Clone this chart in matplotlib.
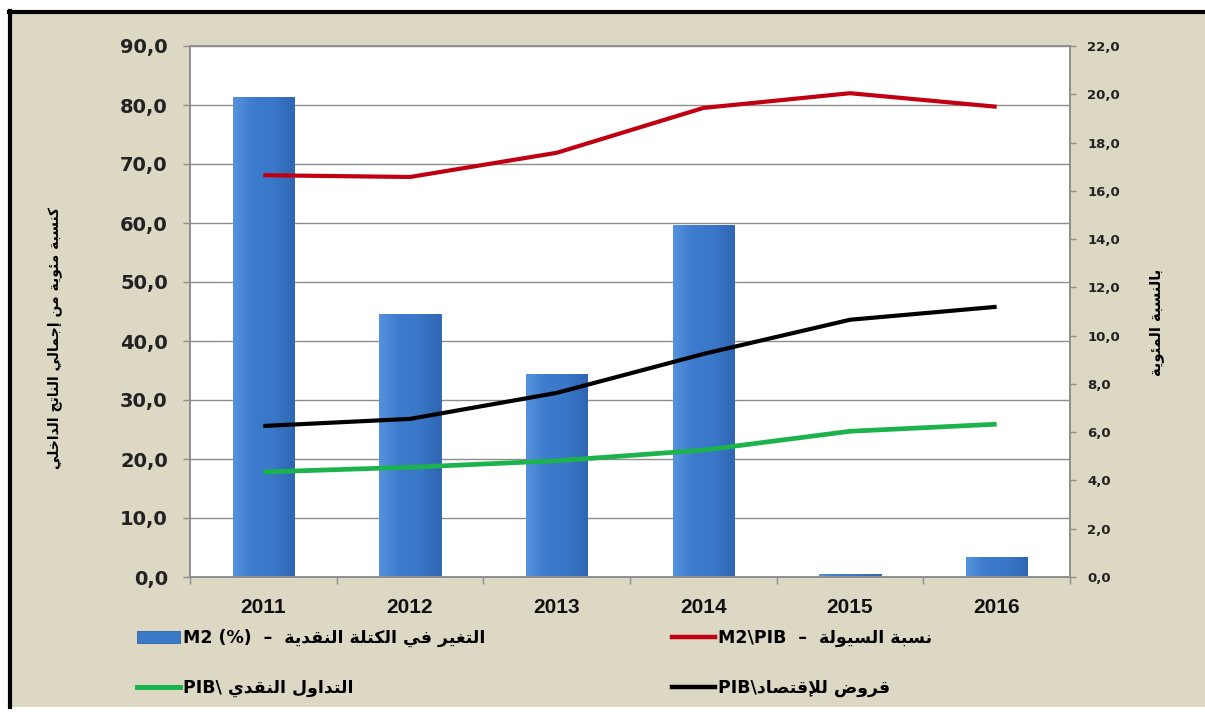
import numpy as np
import matplotlib
matplotlib.use("Agg")
import matplotlib.pyplot as plt
from matplotlib.patches import Rectangle
from matplotlib.lines import Line2D
from matplotlib.colors import LinearSegmentedColormap
from matplotlib.ticker import FuncFormatter, FixedLocator
from matplotlib.transforms import blended_transform_factory
from matplotlib import font_manager

# ---------------- data ----------------
years = ["2011", "2012", "2013", "2014", "2015", "2016"]
m2_growth = [19.9, 10.9, 8.4, 14.6, 0.12, 0.83]          # right axis (%)
m2_pib = [68.1, 67.8, 71.9, 79.5, 82.0, 79.7]            # left axis (% of GDP)
credit_pib = [25.6, 26.8, 31.2, 37.8, 43.6, 45.8]
currency_pib = [17.8, 18.6, 19.7, 21.5, 24.7, 25.9]
left_ticks = [0, 10, 20, 30, 40, 50, 60, 70, 80, 90]
right_ticks = [0, 2, 4, 6, 8, 10, 12, 14, 16, 18, 20, 22]

left_label = "كنسبة مئوية من إجمالي الناتج الداخلي"
right_label = "بالنسبة المئوية"
leg_bar_ar, leg_bar_lat = "التغير في الكتلة النقدية", "M2 (%)  –  "
leg_red_ar, leg_red_lat = "نسبة السيولة", "M2\\PIB  –  "
leg_green_ar, leg_green_lat = "التداول النقدي", "PIB\\ "
leg_black_ar, leg_black_lat = "قروض للإقتصاد", "PIB\\"

# ------------- minimal Arabic shaping (matplotlib has no CTL) -------------
FORMS = {
    '\u0625': ('\uFE87', '\uFE88', None, None),
    '\u0626': ('\uFE89', '\uFE8A', '\uFE8B', '\uFE8C'),
    '\u0627': ('\uFE8D', '\uFE8E', None, None),
    '\u0628': ('\uFE8F', '\uFE90', '\uFE91', '\uFE92'),
    '\u0629': ('\uFE93', '\uFE94', None, None),
    '\u062A': ('\uFE95', '\uFE96', '\uFE97', '\uFE98'),
    '\u062C': ('\uFE9D', '\uFE9E', '\uFE9F', '\uFEA0'),
    '\u062E': ('\uFEA5', '\uFEA6', '\uFEA7', '\uFEA8'),
    '\u062F': ('\uFEA9', '\uFEAA', None, None),
    '\u0631': ('\uFEAD', '\uFEAE', None, None),
    '\u0633': ('\uFEB1', '\uFEB2', '\uFEB3', '\uFEB4'),
    '\u0635': ('\uFEB9', '\uFEBA', '\uFEBB', '\uFEBC'),
    '\u0636': ('\uFEBD', '\uFEBE', '\uFEBF', '\uFEC0'),
    '\u063A': ('\uFECD', '\uFECE', '\uFECF', '\uFED0'),
    '\u0641': ('\uFED1', '\uFED2', '\uFED3', '\uFED4'),
    '\u0642': ('\uFED5', '\uFED6', '\uFED7', '\uFED8'),
    '\u0643': ('\uFED9', '\uFEDA', '\uFEDB', '\uFEDC'),
    '\u0644': ('\uFEDD', '\uFEDE', '\uFEDF', '\uFEE0'),
    '\u0645': ('\uFEE1', '\uFEE2', '\uFEE3', '\uFEE4'),
    '\u0646': ('\uFEE5', '\uFEE6', '\uFEE7', '\uFEE8'),
    '\u0647': ('\uFEE9', '\uFEEA', '\uFEEB', '\uFEEC'),
    '\u0648': ('\uFEED', '\uFEEE', None, None),
    '\u064A': ('\uFEF1', '\uFEF2', '\uFEF3', '\uFEF4'),
}
LAMALEF = {'\u0627': ('\uFEFB', '\uFEFC'), '\u0625': ('\uFEF9', '\uFEFA'),
           '\u0623': ('\uFEF7', '\uFEF8'), '\u0622': ('\uFEF5', '\uFEF6')}


def shape(s):
    toks = []
    i = 0
    while i < len(s):
        c = s[i]
        if c == '\u0644' and i + 1 < len(s) and s[i + 1] in LAMALEF:
            toks.append(('LA', s[i + 1]))
            i += 2
        else:
            toks.append(('C', c))
            i += 1

    def is_ar(t):
        return t[0] == 'LA' or t[1] in FORMS

    def joins_next(t):
        return t[0] == 'C' and t[1] in FORMS and FORMS[t[1]][2] is not None

    out = []
    for k, t in enumerate(toks):
        prev = toks[k - 1] if k > 0 else None
        nxt = toks[k + 1] if k + 1 < len(toks) else None
        p = prev is not None and joins_next(prev)
        if t[0] == 'LA':
            out.append(LAMALEF[t[1]][1 if p else 0])
            continue
        c = t[1]
        if c not in FORMS:
            out.append(c)
            continue
        f = FORMS[c]
        n = f[2] is not None and nxt is not None and is_ar(nxt)
        if p and n:
            out.append(f[3])
        elif p:
            out.append(f[1])
        elif n:
            out.append(f[2])
        else:
            out.append(f[0])
    return ''.join(out)[::-1]


# pick a narrow bold face for the year labels if available
_names = {f.name for f in font_manager.fontManager.ttflist}
year_family = "Liberation Sans Narrow" if "Liberation Sans Narrow" in _names else "Liberation Sans"

# ---------------- figure ----------------
W, H = 1205, 713
fig = plt.figure(figsize=(W / 100, H / 100), dpi=100, facecolor="white")

# beige panel with black left/top border
fig.patches.append(Rectangle((9 / W, 6 / H), 1.0, 1 - 11 / H - 6 / H,
                             transform=fig.transFigure, facecolor="#DDD8C3",
                             edgecolor="none", zorder=-10))
fig.add_artist(Line2D([10 / W, 10 / W], [6 / H, 1 - 11 / H], transform=fig.transFigure,
                      color="black", lw=3, zorder=-5))
fig.add_artist(Line2D([9 / W, 1.0], [1 - 12 / H, 1 - 12 / H], transform=fig.transFigure,
                      color="black", lw=3, zorder=-5))

ax_b = fig.add_axes([190 / W, 136 / H, 880 / W, 531 / H])
ax_b.set_facecolor("white")
ax_l = ax_b.twinx()

x = np.arange(len(years))

# bars on the right-hand axis
bars = ax_b.bar(x, m2_growth, width=0.42, color="#3A78C8", edgecolor="#2E63A8",
                linewidth=0.6, zorder=2)
grad_cmap = LinearSegmentedColormap.from_list("bg", ["#5592DC", "#3C7BCD", "#3A77C8", "#2F66B2"])
grad = np.linspace(0, 1, 64).reshape(1, -1)
for r in bars:
    x0, w, h = r.get_x(), r.get_width(), r.get_height()
    im = ax_b.imshow(grad, extent=[x0, x0 + w, 0, h], aspect="auto", cmap=grad_cmap,
                     zorder=2.1, interpolation="bilinear")
    im.set_clip_path(r)

ax_b.set_xlim(-0.5, len(years) - 0.5)
ax_b.set_ylim(0, 22)
ax_l.set_ylim(0, 90)

# horizontal grid following the left scale, behind bars
ax_b.hlines(left_ticks[1:], 0, 1,
            transform=blended_transform_factory(ax_b.transAxes, ax_l.transData),
            colors="#8E8E8E", lw=1.0, zorder=0.5)

# lines on the left-hand axis
ax_l.plot(x, m2_pib, color="#C00012", lw=3.0, solid_capstyle="butt", zorder=3)
ax_l.plot(x, credit_pib, color="black", lw=3.0, solid_capstyle="butt", zorder=3)
ax_l.plot(x, currency_pib, color="#1DB34C", lw=3.4, solid_capstyle="butt", zorder=3)

# axes / ticks
fmt = FuncFormatter(lambda v, p: f"{v:.1f}".replace(".", ","))
ax_b.yaxis.tick_right()
ax_b.set_yticks(right_ticks)
ax_b.yaxis.set_major_formatter(fmt)
ax_b.tick_params(axis="y", which="major", direction="out", length=4.5, width=1,
                 color="#8E8E8E", pad=8, labelsize=9.5)
for lab in ax_b.get_yticklabels():
    lab.set_fontweight("bold")
    lab.set_color("#222222")

ax_l.yaxis.tick_left()
ax_l.set_yticks(left_ticks)
ax_l.yaxis.set_major_formatter(fmt)
ax_l.tick_params(axis="y", direction="out", length=5, width=1, color="#8E8E8E",
                 pad=11, labelsize=14)
for lab in ax_l.get_yticklabels():
    lab.set_fontweight("bold")
    lab.set_color("#222222")

ax_b.xaxis.set_major_locator(FixedLocator(np.arange(-0.5, len(years), 1.0)))
ax_b.xaxis.set_minor_locator(FixedLocator(x))
ax_b.set_xticklabels([])
ax_b.tick_params(axis="x", which="major", direction="out", length=5, width=1,
                 color="#8E8E8E")
ax_b.tick_params(axis="x", which="minor", length=0, pad=15)
ax_b.set_xticklabels(years, minor=True, fontsize=15, fontweight="bold",
                     family=year_family, color="#111111")
ax_l.tick_params(axis="x", which="both", length=0, labelbottom=False)

for a in (ax_b, ax_l):
    for s in a.spines.values():
        s.set_color("#8E8E8E")
        s.set_linewidth(1.2)

# axis titles
ax_l.set_ylabel(shape(left_label), fontsize=10, fontweight="bold", rotation=90)
ax_l.yaxis.set_label_coords(-0.162, 0.45)
ax_b.set_ylabel(shape(right_label), fontsize=10.5, fontweight="bold", rotation=90)
ax_b.yaxis.set_label_position("right")
ax_b.yaxis.set_label_coords(1.09, 0.48)

# legend (two hand-placed columns)
h_bar = bars
h_red = Line2D([], [], color="#C00012", lw=3.2)
h_green = Line2D([], [], color="#1DB34C", lw=3.6)
h_black = Line2D([], [], color="black", lw=3.2)

leg_prop = {"weight": "bold", "size": 12.5}
leg1 = fig.legend([h_bar, h_green],
                  [leg_bar_lat + shape(leg_bar_ar), leg_green_lat + shape(leg_green_ar)],
                  loc="center left", bbox_to_anchor=(137 / W, 1 - 663 / H),
                  frameon=False, prop=leg_prop, handlelength=2.5, handletextpad=0.15,
                  labelspacing=1.85, borderpad=0, borderaxespad=0)
leg2 = fig.legend([h_red, h_black],
                  [leg_red_lat + shape(leg_red_ar), leg_black_lat + shape(leg_black_ar)],
                  loc="center left", bbox_to_anchor=(672 / W, 1 - 663 / H),
                  frameon=False, prop=leg_prop, handlelength=2.5, handletextpad=0.15,
                  labelspacing=1.85, borderpad=0, borderaxespad=0)

fig.savefig("out.png", dpi=100, facecolor=fig.get_facecolor())
